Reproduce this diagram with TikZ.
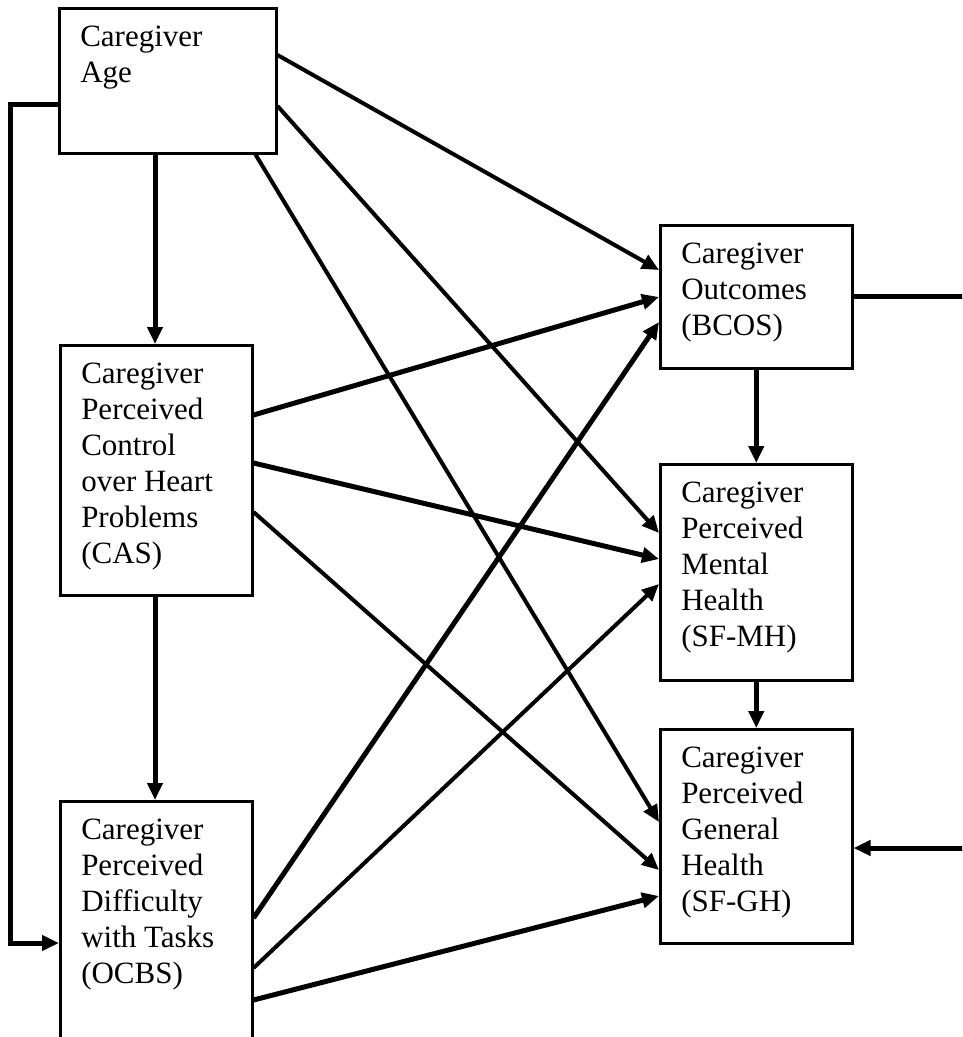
\documentclass[tikz,border=0pt]{standalone}
\usepackage{fontspec}
\setmainfont{Liberation Serif}
\usepackage{tikz}
\usetikzlibrary{arrows.meta}

\begin{document}
\begin{tikzpicture}[x=1pt, y=-1pt,
  varbox/.style={draw, line width=2.5pt, anchor=north west, inner xsep=21pt, inner ysep=18pt,
    font=\fontsize{31}{36}\selectfont},
  link/.style={line width=4pt, -{Triangle[length=17pt,width=15pt]}},
  boldlink/.style={link, line width=5pt}]
\clip (0,0) rectangle (962,1037);
%
\node[varbox] (age) at (58,7) {\parbox[c][109pt][t]{175pt}{Caregiver\\Age}};
\node[varbox] (cas) at (59,344) {\parbox[c][214pt][t]{150pt}{Caregiver\\Perceived\\Control\\over Heart\\Problems\\(CAS)}};
\node[varbox] (ocbs) at (59,800) {\parbox[c][224pt][t]{150pt}{Caregiver\\Perceived\\Difficulty\\with Tasks\\(OCBS)}};
\node[varbox] (bcos) at (659,224) {\parbox[c][107pt][t]{150pt}{Caregiver\\Outcomes\\(BCOS)}};
\node[varbox] (mh) at (659,463) {\parbox[c][180pt][t]{150pt}{Caregiver\\Perceived\\Mental\\Health\\(SF-MH)}};
\node[varbox] (gh) at (659,728) {\parbox[c][178pt][t]{150pt}{Caregiver\\Perceived\\General\\Health\\(SF-GH)}};
\coordinate (bcosout) at (975,296);
\coordinate (ghin) at (975,848);
%
\draw[boldlink] ([xshift=97pt]age.south west) -- ([xshift=96pt]cas.north west);
\draw[boldlink] ([xshift=96pt]cas.south west) -- ([xshift=96pt]ocbs.north west);
\draw[boldlink] (bcos.south) -- (mh.north);
\draw[boldlink] (mh.south) -- (gh.north);
\draw[boldlink] ([yshift=-97pt]age.north west) -- ++(-48,0) |- ([yshift=-143pt]ocbs.north west);
%
\draw[link] ([yshift=-48pt]age.north east) -- ([yshift=-46pt]bcos.north west);
\draw[link] ([yshift=-99pt]age.north east) -- ([yshift=-70pt]mh.north west);
\draw[link] ([xshift=-22pt]age.south east) -- ([yshift=-94pt]gh.north west);
%
\draw[boldlink] ([yshift=-71pt]cas.north east) -- ([yshift=-73pt]bcos.north west);
\draw[boldlink] ([yshift=-119pt]cas.north east) -- ([yshift=-96pt]mh.north west);
\draw[link] ([yshift=-168pt]cas.north east) -- ([yshift=-142pt]gh.north west);
%
\draw[boldlink] ([yshift=-118pt]ocbs.north east) -- ([yshift=-98pt]bcos.north west);
\draw[link] ([yshift=-168pt]ocbs.north east) -- ([yshift=-121pt]mh.north west);
\draw[boldlink] ([yshift=-200pt]ocbs.north east) -- ([yshift=-168pt]gh.north west);
%
\draw[line width=5pt] (bcos.east) -- (bcosout |- bcos.east);
\draw[boldlink] (ghin) -- ([yshift=-120pt]gh.north east);
\end{tikzpicture}
\end{document}
